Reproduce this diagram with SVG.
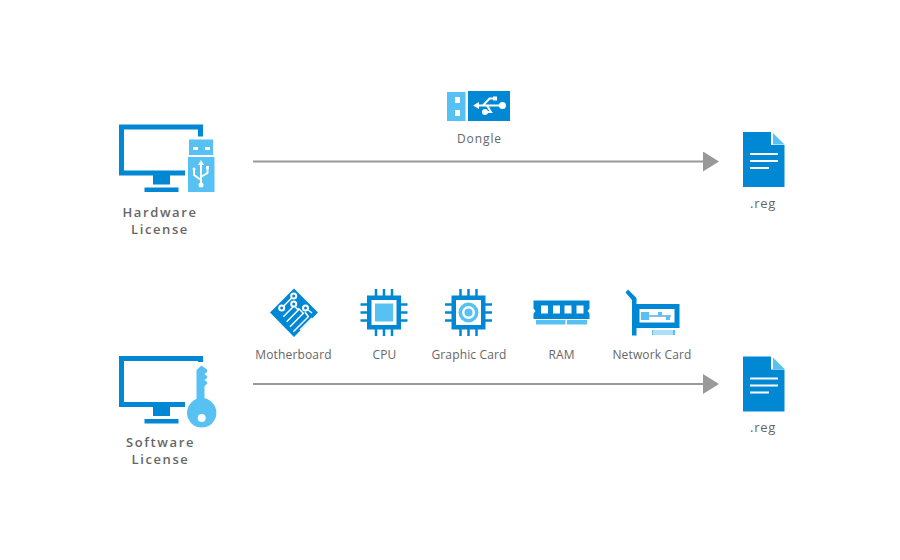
<svg xmlns="http://www.w3.org/2000/svg" width="900" height="560" viewBox="0 0 900 560">
<style>
.d{fill:#0088d4}.l{fill:#56c1f2}.w{fill:#fff}
.ds{fill:none;stroke:#0088d4;stroke-width:3}
.ws{fill:none;stroke:#fff;stroke-width:2}
text{font-family:"Open Sans","Noto Sans",sans-serif;font-size:12px;fill:#666;text-anchor:middle;letter-spacing:.15px}
.b{font-size:13px;font-weight:600;letter-spacing:1.6px}
.sp{letter-spacing:.9px}
.r{font-size:13px;letter-spacing:.7px}
.c{fill:none;stroke:#999;stroke-width:2}
</style>
<defs>
<marker id="arrow" markerUnits="userSpaceOnUse" markerWidth="16" markerHeight="20" refX="0" refY="10" orient="auto"><path d="M0 0L16 10L0 20Z" fill="#999"/></marker>
<path id="mon" class="d" d="M119 0H203V12H198V5H124V46H185V51H119ZM153 51H170V60H153ZM144.500 63H178.500V67.500H144.500Z"/>
<g id="doc">
<path class="d" d="M0 0H28V13H41.500V55H0Z"/>
<path class="l" d="M30 1L41.500 12.500H30Z"/>
<path class="w" d="M7 21H35V23H7ZM7 28H35V30H7ZM7 35H26V37H7Z"/>
</g>
<g id="pins">
<path d="M-8-23.500V-15M0-23.500V-15M8-23.500V-15M-8 15V23.500M0 15V23.500M8 15V23.500M-23.500-8H-15M-23.500 0H-15M-23.500 8H-15M15-8H23.500M15 0H23.500M15 8H23.500" class="ds" style="stroke-width:2.500"/>
<rect x="-17" y="-17" width="34" height="34" class="d"/>
<rect x="-12.500" y="-12.500" width="25" height="25" class="w"/>
</g>
</defs>
<g id="connectors">
<path class="c" d="M253 161.500H703" marker-end="url(#arrow)"/>
<path class="c" d="M253 384H703" marker-end="url(#arrow)"/>
</g>
<g id="hardware-license">
<use href="#mon" y="124.500"/>
<rect class="l" x="189" y="139.500" width="24" height="15.500"/>
<rect class="w" x="193" y="147" width="5" height="3"/><rect class="w" x="205" y="147" width="5" height="3"/>
<rect class="l" x="188" y="157" width="26.500" height="35"/>
<path class="ws" d="M201 163V184M194 170V175L201 180M207.500 168V173L201 177"/>
<path class="w" d="M201 160L204 165H198Z"/><circle class="w" cx="201" cy="185" r="2.500"/>
<circle class="w" cx="194" cy="169" r="1.500"/><rect class="w" x="206" y="166" width="3" height="3"/>
<text class="b" x="160" y="217">Hardware</text>
<text class="b" x="160" y="234">License</text>
</g>
<g id="dongle">
<rect class="l" x="447" y="92" width="18.500" height="29"/>
<rect class="w" x="455" y="97" width="5" height="6"/><rect class="w" x="455" y="110" width="5" height="6"/>
<rect class="d" x="468" y="91" width="42" height="30"/>
<path class="ws" d="M476 105.500H500M483 105.500L489.500 98.500H494M487 105.500L491 112H486"/>
<path class="w" d="M473 105.500L479 102V109Z"/><circle class="w" cx="502.500" cy="105.500" r="3.500"/>
<rect class="w" x="493" y="96.500" width="4" height="4"/><circle class="w" cx="485" cy="112" r="3"/>
<text class="sp" x="479.500" y="143">Dongle</text>
</g>
<g id="reg-top"><use href="#doc" x="743" y="132"/><text class="r" x="763" y="208">.reg</text></g>
<g id="software-license">
<use href="#mon" y="356"/>
<rect class="w" x="186" y="362" width="32" height="48"/>
<rect class="d" x="198" y="356" width="5" height="6"/>
<path class="l" d="M196.500 370L201.500 365.500L207 369.500V372L204.500 374L207 376V378L204.500 380L207 382V384L204.500 386V400H196.500Z"/>
<circle class="l" cx="201.700" cy="412.800" r="14.700"/>
<circle class="w" cx="201.700" cy="418" r="4"/>
<text class="b" x="160.500" y="447">Software</text>
<text class="b" x="160.500" y="464">License</text>
</g>
<g id="motherboard">
<path class="d" d="M294 288.500L318 312.500L294 337L270 312.500Z"/>
<path class="ws" style="stroke-width:1.500" d="M281.700 308L293.700 296M283.300 316.700L294 306M286.700 321.700L298.300 310L295 306.700M290 326.700L303.300 313.300L298.300 308.300M293.300 331.700L308.300 316.700L305 312M300 330L312 318M305.500 308L312 313"/>
<circle class="w" cx="293.700" cy="296" r="3.500"/><circle class="d" cx="293.700" cy="296" r="1.500"/>
<circle class="w" cx="281.700" cy="308" r="3.500"/><circle class="d" cx="281.700" cy="308" r="1.500"/>
<circle class="w" cx="293.700" cy="304" r="3.500"/><circle class="d" cx="293.700" cy="304" r="1.500"/>
<circle class="w" cx="305.500" cy="308" r="3.500"/><circle class="d" cx="305.500" cy="308" r="1.500"/>
<text x="293.500" y="359">Motherboard</text>
</g>
<g id="cpu">
<use href="#pins" x="384" y="312.500"/>
<rect class="l" x="375" y="303.500" width="18" height="18"/>
<text x="384.500" y="359">CPU</text>
</g>
<g id="graphic-card">
<use href="#pins" x="468.500" y="312.500"/>
<circle class="l" cx="468.500" cy="312.500" r="10"/><circle class="w" cx="468.500" cy="312.500" r="6.500"/><circle class="l" cx="468.500" cy="312.500" r="4"/>
<text x="469" y="359">Graphic Card</text>
</g>
<g id="ram">
<path class="d" d="M533.500 300.500H589.500V308.500L587.500 311L589.500 313.500V319H533.500V313.500L535.500 311L533.500 308.500Z"/>
<path class="w" d="M541 305.500H548V313.500H541ZM553 305.500H560V313.500H553ZM564.500 305.500H571.500V313.500H564.500ZM576.500 305.500H583.500V313.500H576.500Z"/>
<rect class="l" x="536" y="320" width="29.500" height="4.500"/><rect class="l" x="567" y="320" width="20" height="4.500"/>
<text x="561.500" y="359">RAM</text>
</g>
<g id="network-card">
<path class="d" d="M625.500 292.500L628 289.500L636.500 298V304H679.500V328H636.500V335.500H632V300Z"/>
<rect class="w" x="639.500" y="309" width="35" height="13.500"/>
<rect class="l" x="641" y="312" width="8" height="8"/>
<path class="ds" style="stroke-width:1" d="M649 316H671"/>
<rect class="l" x="658" y="312" width="4" height="4"/><rect class="l" x="666" y="316" width="4" height="4"/>
<path d="M652 330H675V335H652Z" class="l"/>
<path d="M654 330V335M656 330V335M658 330V335M660 330V335M662 330V335M664 330V335M666 330V335M668 330V335M670 330V335M672 330V335" stroke="#fff" stroke-width="1"/>
<text x="652" y="359">Network Card</text>
</g>
<g id="reg-bottom"><use href="#doc" x="743" y="356.500"/><text class="r" x="763" y="432">.reg</text></g>
</svg>
